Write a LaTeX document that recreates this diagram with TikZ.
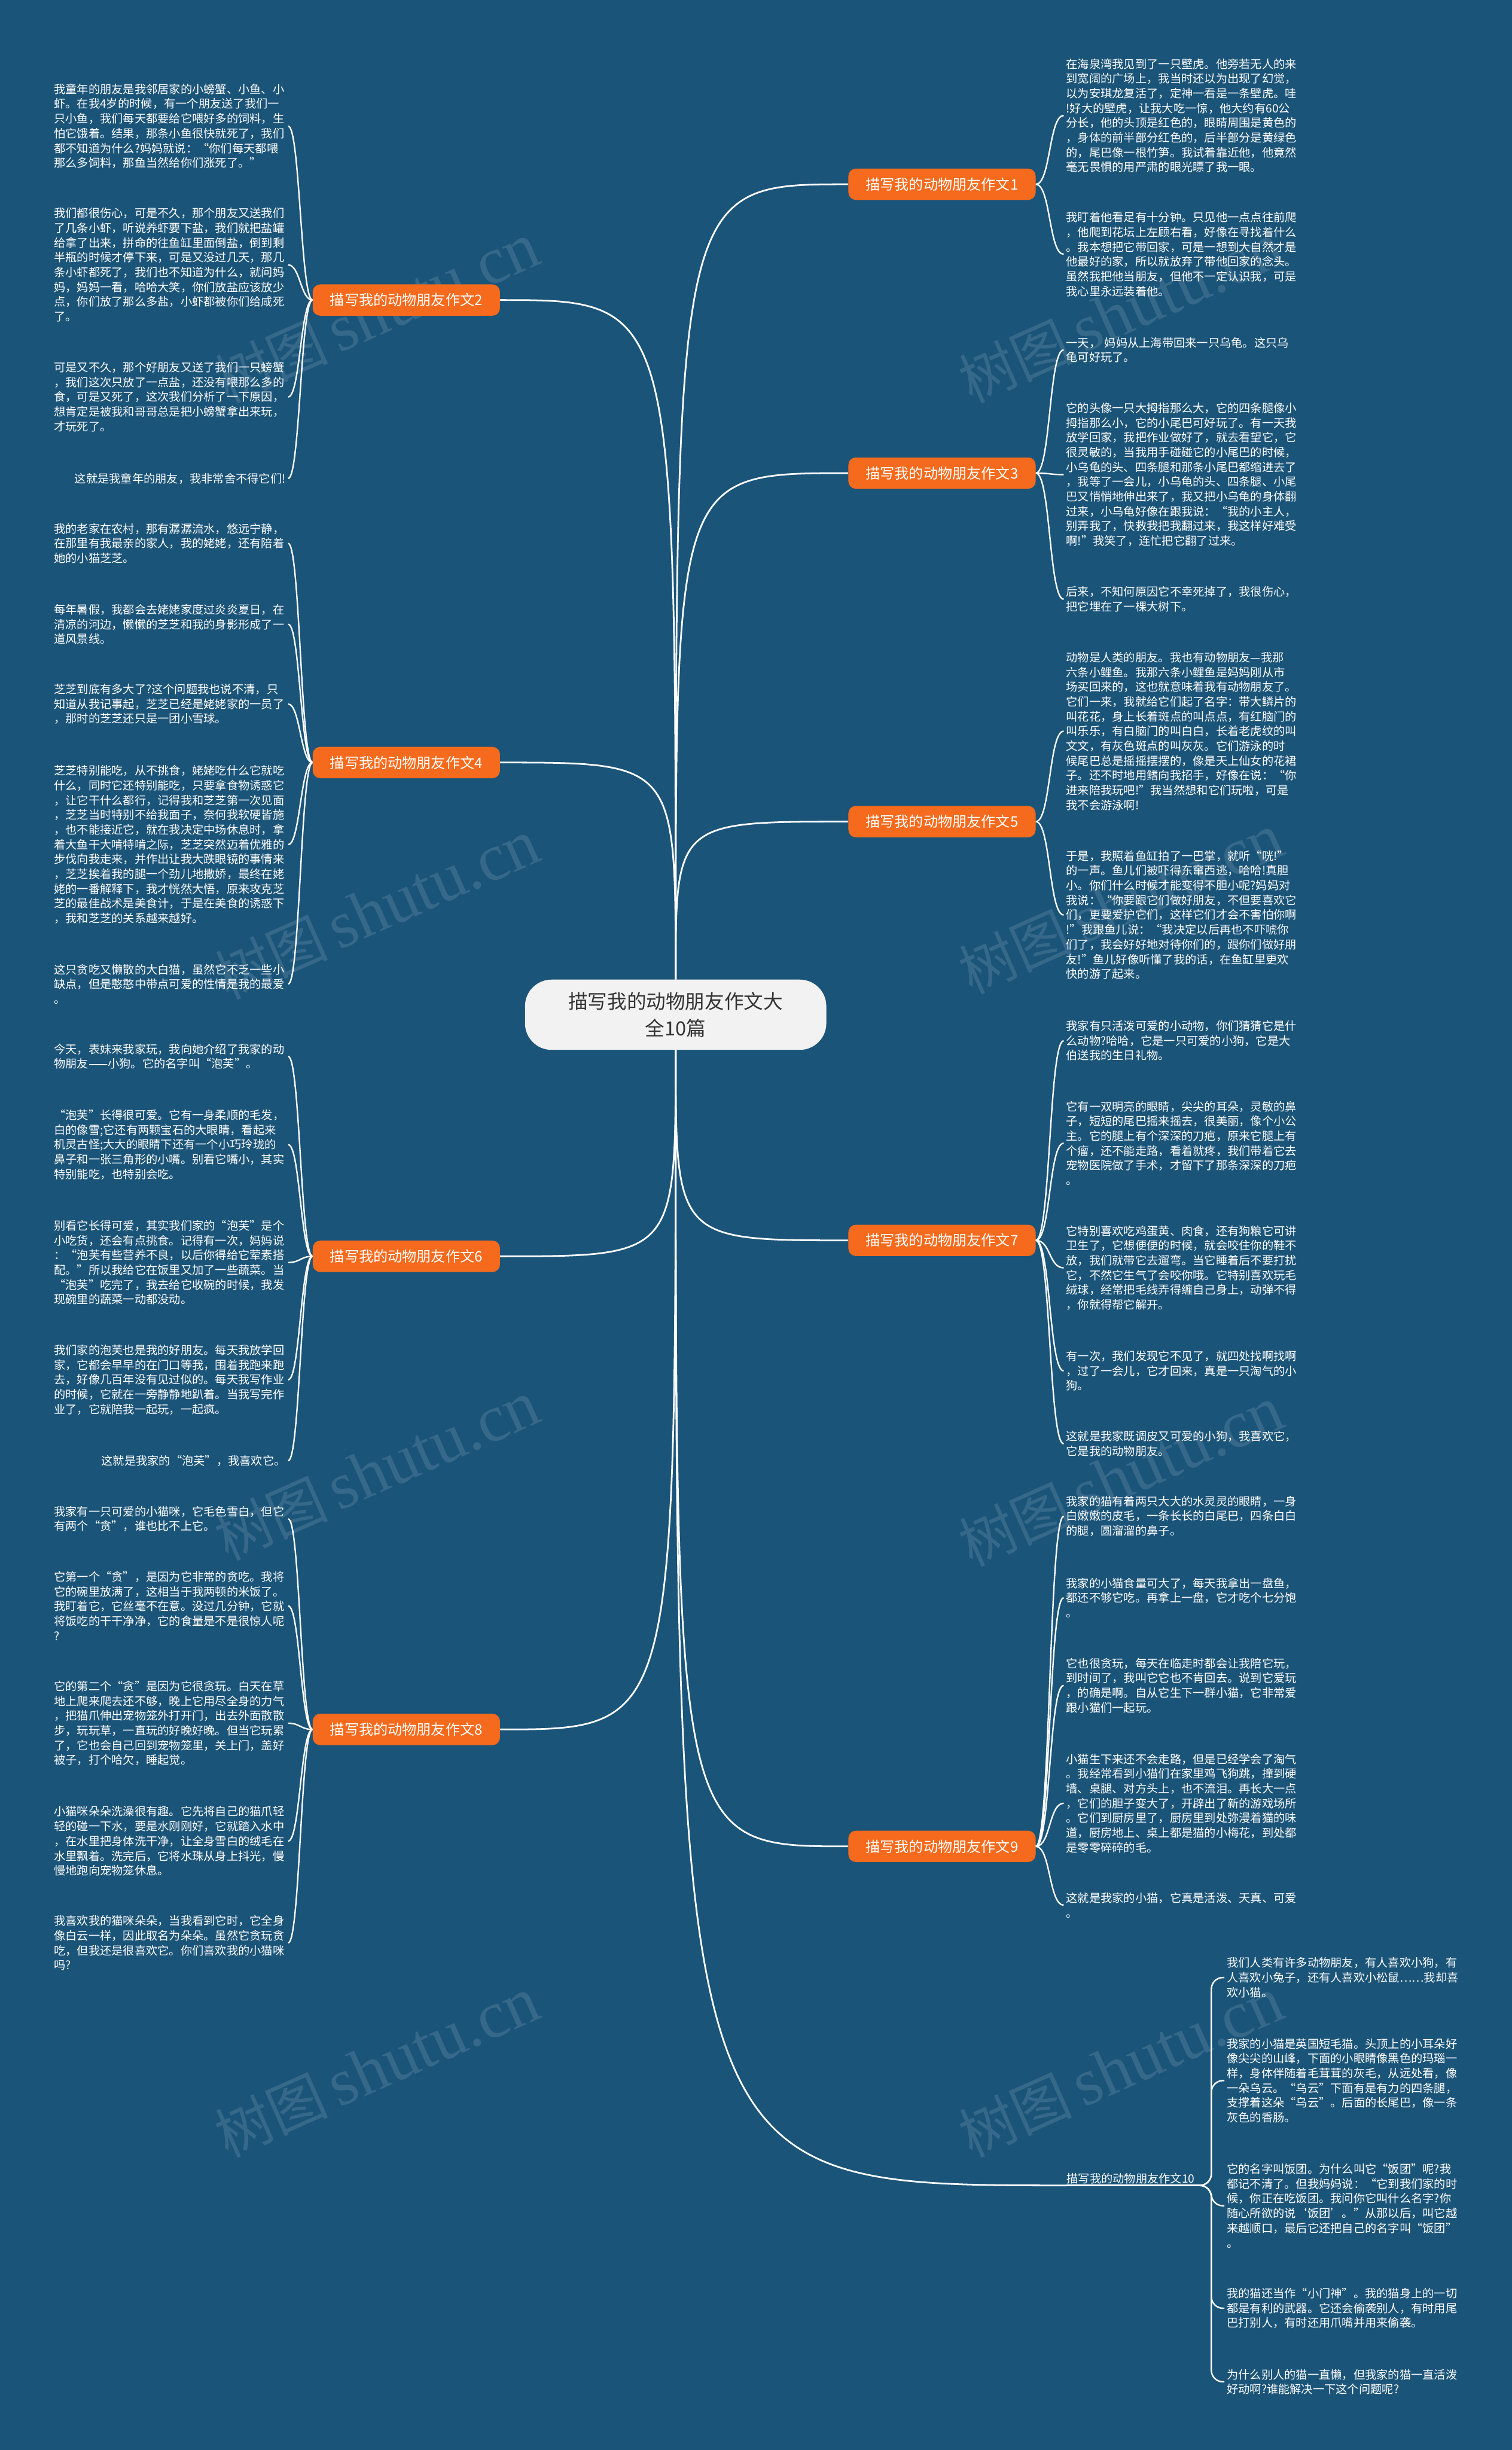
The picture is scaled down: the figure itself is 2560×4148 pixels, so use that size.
\documentclass[tikz,border=0pt]{standalone}
\usepackage{fontspec}
\newfontfamily\cjk{Noto Sans CJK SC}
\newfontfamily\wmserif{Liberation Serif}
\usetikzlibrary{calc}
\definecolor{bg}{RGB}{27,84,121}
\definecolor{orng}{RGB}{245,106,28}
\definecolor{cfill}{RGB}{242,242,242}
\definecolor{ctext}{RGB}{51,51,51}
\newcommand{\fwo}[1]{\makebox[1em][r]{#1}}
\newcommand{\fwc}[1]{\makebox[1em][l]{#1}}
\begin{document}
\begin{tikzpicture}[x=0.025cm,y=-0.025cm,
  para/.style={font=\cjk\fontsize{13.87pt}{17.78pt}\selectfont,text=white,align=left,text width=279pt,inner xsep=2.85pt,inner ysep=0pt},
  rpara/.style={para,anchor=west},
  lpara/.style={para,anchor=east},
  lone/.style={font=\cjk\fontsize{13.87pt}{17.78pt}\selectfont,text=white,anchor=east,inner xsep=2.85pt,inner ysep=0pt},
  branch/.style={font=\cjk\fontsize{17.4pt}{20pt}\selectfont,text=white,fill=orng,rounded corners=9pt,minimum width=225.5pt,minimum height=37.7pt,inner sep=0pt},
  hub/.style={font=\cjk\fontsize{23.5pt}{32pt}\selectfont,text=ctext,fill=cfill,rounded corners=32pt,minimum width=362.8pt,minimum height=84.6pt,align=center,inner sep=0pt},
  conn/.style={draw=white,line width=2pt},
  sub/.style={draw=white,line width=1.7pt},
  wm/.style={text=white,opacity=0.12,rotate=24,anchor=west,inner sep=0pt}]
\useasboundingbox (0,0) rectangle (2560,4148);
\fill[bg] (0,0) rectangle (2560,4148);

% watermarks
\foreach \wx/\wy in {370/650,370/1660,370/2610,370/3620,1630/650,1630/1650,1630/2620,1630/3620}{
  \node[wm] at (\wx,\wy) {{\cjk\fontsize{68pt}{68pt}\selectfont 树图}\hspace{12pt}{\wmserif\fontsize{80pt}{80pt}\selectfont shutu.cn}};
}

% centre
\node[hub] (c) at (1144,1718) {描写我的动物朋友作文大\\全10篇};

% branches
\node[branch] (b1) at (1595,312) {描写我的动物朋友作文1};
\node[branch] (b3) at (1595,801) {描写我的动物朋友作文3};
\node[branch] (b5) at (1595,1391) {描写我的动物朋友作文5};
\node[branch] (b7) at (1595,2100) {描写我的动物朋友作文7};
\node[branch] (b9) at (1595,3126) {描写我的动物朋友作文9};
\node[branch] (b2) at (688,508) {描写我的动物朋友作文2};
\node[branch] (b4) at (688,1291) {描写我的动物朋友作文4};
\node[branch] (b6) at (688,2127) {描写我的动物朋友作文6};
\node[branch] (b8) at (688,2928) {描写我的动物朋友作文8};
\node[font=\cjk\fontsize{13.87pt}{17.78pt}\selectfont,text=white,anchor=south west,inner xsep=0pt,inner ysep=2pt] (b10) at (1806,3700) {描写我的动物朋友作文10};
\coordinate (b10e) at (2030,3700);

% ---------- left paragraphs ----------
\node[lpara] (p2a) at (488,213.5) {我童年的朋友是我邻居家的小螃蟹、小鱼、小\\虾。在我4岁的时候，有一个朋友送了我们一\\只小鱼，我们每天都要给它喂好多的饲料，生\\怕它饿着。结果，那条小鱼很快就死了，我们\\都不知道为什么?妈妈就说：\fwo{“}你们每天都喂\\那么多饲料，那鱼当然给你们涨死了。\fwc{”}};
\node[lpara] (p2b) at (488,448.5) {我们都很伤心，可是不久，那个朋友又送我们\\了几条小虾，听说养虾要下盐，我们就把盐罐\\给拿了出来，拼命的往鱼缸里面倒盐，倒到剩\\半瓶的时候才停下来，可是又没过几天，那几\\条小虾都死了，我们也不知道为什么，就问妈\\妈，妈妈一看，哈哈大笑，你们放盐应该放少\\点，你们放了那么多盐，小虾都被你们给咸死\\了。};
\node[lpara] (p2c) at (488,672) {可是又不久，那个好朋友又送了我们一只螃蟹\\，我们这次只放了一点盐，还没有喂那么多的\\食，可是又死了，这次我们分析了一下原因，\\想肯定是被我和哥哥总是把小螃蟹拿出来玩，\\才玩死了。};
\node[lone] (p2d) at (488,810) {这就是我童年的朋友，我非常舍不得它们!};

\node[lpara] (p4a) at (488,920) {我的老家在农村，那有潺潺流水，悠远宁静，\\在那里有我最亲的家人，我的姥姥，还有陪着\\她的小猫芝芝。};
\node[lpara] (p4b) at (488,1057) {每年暑假，我都会去姥姥家度过炎炎夏日，在\\清凉的河边，懒懒的芝芝和我的身影形成了一\\道风景线。};
\node[lpara] (p4c) at (488,1192) {芝芝到底有多大了?这个问题我也说不清，只\\知道从我记事起，芝芝已经是姥姥家的一员了\\，那时的芝芝还只是一团小雪球。};
\node[lpara] (p4d) at (488,1430) {芝芝特别能吃，从不挑食，姥姥吃什么它就吃\\什么，同时它还特别能吃，只要拿食物诱惑它\\，让它干什么都行，记得我和芝芝第一次见面\\，芝芝当时特别不给我面子，奈何我软硬皆施\\，也不能接近它，就在我决定中场休息时，拿\\着大鱼干大啃特啃之际，芝芝突然迈着优雅的\\步伐向我走来，并作出让我大跌眼镜的事情来\\，芝芝挨着我的腿一个劲儿地撒娇，最终在姥\\姥的一番解释下，我才恍然大悟，原来攻克芝\\芝的最佳战术是美食计，于是在美食的诱惑下\\，我和芝芝的关系越来越好。};
\node[lpara] (p4e) at (488,1666) {这只贪吃又懒散的大白猫，虽然它不乏一些小\\缺点，但是憨憨中带点可爱的性情是我的最爱\\。};

\node[lpara] (p6a) at (488,1788.5) {今天，表妹来我家玩，我向她介绍了我家的动\\物朋友——小狗。它的名字叫\fwo{“}泡芙\fwc{”}。};
\node[lpara] (p6b) at (488,1938) {\fwo{“}泡芙\fwc{”}长得很可爱。它有一身柔顺的毛发，\\白的像雪;它还有两颗宝石的大眼睛，看起来\\机灵古怪;大大的眼睛下还有一个小巧玲珑的\\鼻子和一张三角形的小嘴。别看它嘴小，其实\\特别能吃，也特别会吃。};
\node[lpara] (p6c) at (488,2137.5) {别看它长得可爱，其实我们家的\fwo{“}泡芙\fwc{”}是个\\小吃货，还会有点挑食。记得有一次，妈妈说\\：\fwo{“}泡芙有些营养不良，以后你得给它荤素搭\\配。\fwc{”}所以我给它在饭里又加了一些蔬菜。当\\\fwo{“}泡芙\fwc{”}吃完了，我去给它收碗的时候，我发\\现碗里的蔬菜一动都没动。};
\node[lpara] (p6d) at (488,2336) {我们家的泡芙也是我的好朋友。每天我放学回\\家，它都会早早的在门口等我，围着我跑来跑\\去，好像几百年没有见过似的。每天我写作业\\的时候，它就在一旁静静地趴着。当我写完作\\业了，它就陪我一起玩，一起疯。};
\node[lone] (p6e) at (488,2473) {这就是我家的\fwo{“}泡芙\fwc{”}，我喜欢它。};

\node[lpara] (p8a) at (488,2571.5) {我家有一只可爱的小猫咪，它毛色雪白，但它\\有两个\fwo{“}贪\fwc{”}，谁也比不上它。};
\node[lpara] (p8b) at (488,2719) {它第一个\fwo{“}贪\fwc{”}，是因为它非常的贪吃。我将\\它的碗里放满了，这相当于我两顿的米饭了。\\我盯着它，它丝毫不在意。没过几分钟，它就\\将饭吃的干干净净，它的食量是不是很惊人呢\\?};
\node[lpara] (p8c) at (488,2917.5) {它的第二个\fwo{“}贪\fwc{”}是因为它很贪玩。白天在草\\地上爬来爬去还不够，晚上它用尽全身的力气\\，把猫爪伸出宠物笼外打开门，出去外面散散\\步，玩玩草，一直玩的好晚好晚。但当它玩累\\了，它也会自己回到宠物笼里，关上门，盖好\\被子，打个哈欠，睡起觉。};
\node[lpara] (p8d) at (488,3117) {小猫咪朵朵洗澡很有趣。它先将自己的猫爪轻\\轻的碰一下水，要是水刚刚好，它就踏入水中\\，在水里把身体洗干净，让全身雪白的绒毛在\\水里飘着。洗完后，它将水珠从身上抖光，慢\\慢地跑向宠物笼休息。};
\node[lpara] (p8e) at (488,3289.5) {我喜欢我的猫咪朵朵，当我看到它时，它全身\\像白云一样，因此取名为朵朵。虽然它贪玩贪\\吃，但我还是很喜欢它。你们喜欢我的小猫咪\\吗?};

% ---------- right paragraphs ----------
\node[rpara] (p1a) at (1801,195.5) {在海泉湾我见到了一只壁虎。他旁若无人的来\\到宽阔的广场上，我当时还以为出现了幻觉，\\以为安琪龙复活了，定神一看是一条壁虎。哇\\!好大的壁虎，让我大吃一惊，他大约有60公\\分长，他的头顶是红色的，眼睛周围是黄色的\\，身体的前半部分红色的，后半部分是黄绿色\\的，尾巴像一根竹笋。我试着靠近他，他竟然\\毫无畏惧的用严肃的眼光瞟了我一眼。};
\node[rpara] (p1b) at (1801,430.5) {我盯着他看足有十分钟。只见他一点点往前爬\\，他爬到花坛上左顾右看，好像在寻找着什么\\。我本想把它带回家，可是一想到大自然才是\\他最好的家，所以就放弃了带他回家的念头。\\虽然我把他当朋友，但他不一定认识我，可是\\我心里永远装着他。};

\node[rpara] (p3a) at (1801,592.5) {一天， 妈妈从上海带回来一只乌龟。这只乌\\龟可好玩了。};
\node[rpara] (p3b) at (1801,803.5) {它的头像一只大拇指那么大，它的四条腿像小\\拇指那么小，它的小尾巴可好玩了。有一天我\\放学回家，我把作业做好了，就去看望它，它\\很灵敏的，当我用手碰碰它的小尾巴的时候，\\小乌龟的头、四条腿和那条小尾巴都缩进去了\\，我等了一会儿，小乌龟的头、四条腿、小尾\\巴又悄悄地伸出来了，我又把小乌龟的身体翻\\过来，小乌龟好像在跟我说：\fwo{“}我的小主人，\\别弄我了，快救我把我翻过来，我这样好难受\\啊!\fwc{”}我笑了，连忙把它翻了过来。};
\node[rpara] (p3c) at (1801,1014.5) {后来，不知何原因它不幸死掉了，我很伤心，\\把它埋在了一棵大树下。};

\node[rpara] (p5a) at (1801,1238) {动物是人类的朋友。我也有动物朋友—我那\\六条小鲤鱼。我那六条小鲤鱼是妈妈刚从市\\场买回来的，这也就意味着我有动物朋友了。\\它们一来，我就给它们起了名字：带大鳞片的\\叫花花，身上长着斑点的叫点点，有红脑门的\\叫乐乐，有白脑门的叫白白，长着老虎纹的叫\\文文，有灰色斑点的叫灰灰。它们游泳的时\\候尾巴总是摇摇摆摆的，像是天上仙女的花裙\\子。还不时地用鳍向我招手，好像在说：\fwo{“}你\\进来陪我玩吧!\fwc{”}我当然想和它们玩啦，可是\\我不会游泳啊!};
\node[rpara] (p5b) at (1801,1549) {于是，我照着鱼缸拍了一巴掌，就听\fwo{“}咣!\fwc{”}\\的一声。鱼儿们被吓得东窜西逃，哈哈!真胆\\小。你们什么时候才能变得不胆小呢?妈妈对\\我说：\fwo{“}你要跟它们做好朋友，不但要喜欢它\\们，更要爱护它们，这样它们才会不害怕你啊\\!\fwc{”}我跟鱼儿说：\fwo{“}我决定以后再也不吓唬你\\们了，我会好好地对待你们的，跟你们做好朋\\友!\fwc{”}鱼儿好像听懂了我的话，在鱼缸里更欢\\快的游了起来。};

\node[rpara] (p7a) at (1801,1762) {我家有只活泼可爱的小动物，你们猜猜它是什\\么动物?哈哈，它是一只可爱的小狗，它是大\\伯送我的生日礼物。};
\node[rpara] (p7b) at (1801,1935.5) {它有一双明亮的眼睛，尖尖的耳朵，灵敏的鼻\\子，短短的尾巴摇来摇去，很美丽，像个小公\\主。它的腿上有个深深的刀疤，原来它腿上有\\个瘤，还不能走路，看着就疼，我们带着它去\\宠物医院做了手术，才留下了那条深深的刀疤\\。};
\node[rpara] (p7c) at (1801,2146.5) {它特别喜欢吃鸡蛋黄、肉食，还有狗粮它可讲\\卫生了，它想便便的时候，就会咬住你的鞋不\\放，我们就带它去遛弯。当它睡着后不要打扰\\它，不然它生气了会咬你哦。它特别喜欢玩毛\\绒球，经常把毛线弄得缠自己身上，动弹不得\\，你就得帮它解开。};
\node[rpara] (p7d) at (1801,2321) {有一次，我们发现它不见了，就四处找啊找啊\\，过了一会儿，它才回来，真是一只淘气的小\\狗。};
\node[rpara] (p7e) at (1801,2444.5) {这就是我家既调皮又可爱的小狗，我喜欢它，\\它是我的动物朋友。};

\node[rpara] (p9a) at (1801,2567) {我家的猫有着两只大大的水灵灵的眼睛，一身\\白嫩嫩的皮毛，一条长长的白尾巴，四条白白\\的腿，圆溜溜的鼻子。};
\node[rpara] (p9b) at (1801,2705) {我家的小猫食量可大了，每天我拿出一盘鱼，\\都还不够它吃。再拿上一盘，它才吃个七分饱\\。};
\node[rpara] (p9c) at (1801,2853.5) {它也很贪玩，每天在临走时都会让我陪它玩，\\到时间了，我叫它它也不肯回去。说到它爱玩\\，的确是啊。自从它生下一群小猫，它非常爱\\跟小猫们一起玩。};
\node[rpara] (p9d) at (1801,3053) {小猫生下来还不会走路，但是已经学会了淘气\\。我经常看到小猫们在家里鸡飞狗跳，撞到硬\\墙、桌腿、对方头上，也不流泪。再长大一点\\，它们的胆子变大了，开辟出了新的游戏场所\\。它们到厨房里了，厨房里到处弥漫着猫的味\\道，厨房地上、桌上都是猫的小梅花，到处都\\是零零碎碎的毛。};
\node[rpara] (p9e) at (1801,3225.5) {这就是我家的小猫，它真是活泼、天真、可爱\\。};

\node[rpara] (p10a) at (2073,3348) {我们人类有许多动物朋友，有人喜欢小狗，有\\人喜欢小兔子，还有人喜欢小松鼠……我却喜\\欢小猫。};
\node[rpara] (p10b) at (2073,3522.5) {我家的小猫是英国短毛猫。头顶上的小耳朵好\\像尖尖的山峰，下面的小眼睛像黑色的玛瑙一\\样，身体伴随着毛茸茸的灰毛，从远处看，像\\一朵乌云。\fwo{“}乌云\fwc{”}下面有是有力的四条腿，\\支撑着这朵\fwo{“}乌云\fwc{”}。后面的长尾巴，像一条\\灰色的香肠。};
\node[rpara] (p10c) at (2073,3734.5) {它的名字叫饭团。为什么叫它\fwo{“}饭团\fwc{”}呢?我\\都记不清了。但我妈妈说：\fwo{“}它到我们家的时\\候，你正在吃饭团。我问你它叫什么名字?你\\随心所欲的说\fwo{‘}饭团\fwc{’}。\fwc{”}从那以后，叫它越\\来越顺口，最后它还把自己的名字叫\fwo{“}饭团\fwc{”}\\。};
\node[rpara] (p10d) at (2073,3908) {我的猫还当作\fwo{“}小门神\fwc{”}。我的猫身上的一切\\都是有利的武器。它还会偷袭别人，有时用尾\\巴打别人，有时还用爪嘴并用来偷袭。};
\node[rpara] (p10e) at (2073,4032.5) {为什么别人的猫一直懒，但我家的猫一直活泼\\好动啊?谁能解决一下这个问题呢?};

% ---------- centre connectors ----------
\foreach \b in {b1,b3,b5}{\draw[conn] (c.north) .. controls (c.north |- \b.west) .. (\b.west);}
\foreach \b in {b7,b9}{\draw[conn] (c.south) .. controls (c.south |- \b.west) .. (\b.west);}
\draw[conn] (c.south) .. controls (c.south |- b10.south west) .. (b10.south west);
\foreach \b in {b2,b4}{\draw[conn] (c.north) .. controls (c.north |- \b.east) .. (\b.east);}
\foreach \b in {b6,b8}{\draw[conn] (c.south) .. controls (c.south |- \b.east) .. (\b.east);}
\draw[sub] (b10.south west) -- (b10e);

% ---------- branch connectors ----------
\foreach \p in {p1a,p1b}{\draw[sub] (b1.east) .. controls +(25,0) and +(-25,0) .. (\p.west);}
\foreach \p in {p3a,p3b,p3c}{\draw[sub] (b3.east) .. controls +(25,0) and +(-25,0) .. (\p.west);}
\foreach \p in {p5a,p5b}{\draw[sub] (b5.east) .. controls +(25,0) and +(-25,0) .. (\p.west);}
\foreach \p in {p7a,p7b,p7c,p7d,p7e}{\draw[sub] (b7.east) .. controls +(25,0) and +(-25,0) .. (\p.west);}
\foreach \p in {p9a,p9b,p9c,p9d,p9e}{\draw[sub] (b9.east) .. controls +(25,0) and +(-25,0) .. (\p.west);}
\foreach \p in {p10a,p10b,p10c,p10d,p10e}{\draw[sub,rounded corners=14] (b10e) -| ($(\p.west)+(-22,0)$) -- (\p.west);}
\foreach \p in {p2a,p2b,p2c,p2d}{\draw[sub] (b2.west) .. controls +(-20,0) and +(20,0) .. (\p.east);}
\foreach \p in {p4a,p4b,p4c,p4d,p4e}{\draw[sub] (b4.west) .. controls +(-20,0) and +(20,0) .. (\p.east);}
\foreach \p in {p6a,p6b,p6c,p6d,p6e}{\draw[sub] (b6.west) .. controls +(-20,0) and +(20,0) .. (\p.east);}
\foreach \p in {p8a,p8b,p8c,p8d,p8e}{\draw[sub] (b8.west) .. controls +(-20,0) and +(20,0) .. (\p.east);}
\end{tikzpicture}
\end{document}
